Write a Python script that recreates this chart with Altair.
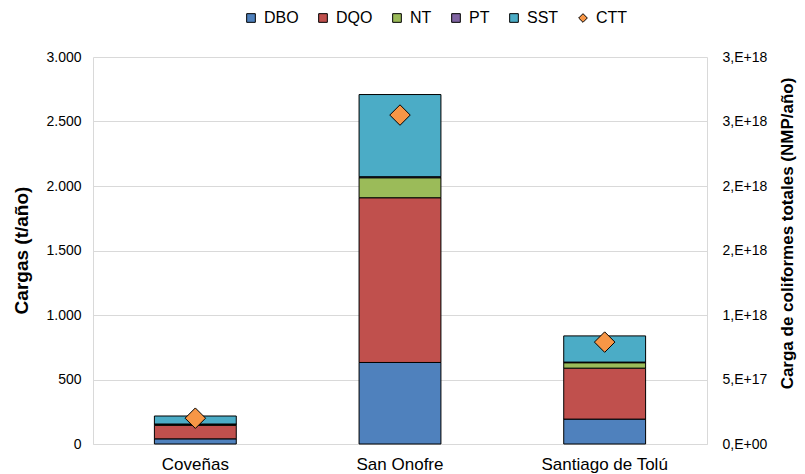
import altair as alt
import pandas as pd

municipios = ["Coveñas", "San Onofre", "Santiago de Tolú"]
series = ["DBO", "DQO", "NT", "PT", "SST"]
dbo = [40, 632, 193]
dqo = [105, 1277, 395]
nt = [8, 155, 42]
pt = [2, 8, 5]
sst = [62, 637, 203]
ctt = [2.0e17, 2.55e18, 7.9e17]

legend_domain = ["DBO", "DQO", "NT", "PT", "SST", "CTT"]
colors = ["#4F81BD", "#C0504D", "#9BBB59", "#8064A2", "#4BACC6", "#F79646"]
shapes = ["square", "square", "square", "square", "square", "diamond"]
outline = ["#000000"] * 6

rows = []
for s_i, (name, vals) in enumerate(zip(series, [dbo, dqo, nt, pt, sst])):
    for m, v in zip(municipios, vals):
        rows.append({"municipio": m, "serie": name, "valor": v, "orden": s_i})
df_bars = pd.DataFrame(rows)
df_ctt = pd.DataFrame({"municipio": municipios, "ctt": ctt, "serie": ["CTT"] * 3})

FONT = "Liberation Sans"

x_enc = alt.X(
    "municipio:N",
    sort=municipios,
    scale=alt.Scale(paddingInner=0.6, paddingOuter=0.3),
    axis=alt.Axis(
        title=None, labelAngle=0, ticks=False, domainColor="#d9d9d9",
        labelFontSize=17, labelColor="#000000", labelPadding=12,
    ),
)

leg = alt.Legend(
    title=None, orient="none", direction="horizontal",
    legendX=150, legendY=-47,
    labelFontSize=16, labelColor="#000000", labelOffset=5,
    columnPadding=16, symbolSize=75, symbolStrokeWidth=1,
    symbolStrokeColor="#000000", symbolOpacity=1,
)

color_scale = alt.Scale(domain=legend_domain, range=colors)
shape_scale = alt.Scale(domain=legend_domain, range=shapes)
stroke_scale = alt.Scale(domain=legend_domain, range=outline)

bars = alt.Chart(df_bars).mark_bar(strokeWidth=1).encode(
    x=x_enc,
    y=alt.Y(
        "valor:Q",
        stack="zero",
        scale=alt.Scale(domain=[0, 3000], nice=False),
        axis=alt.Axis(
            title="Cargas (t/año)",
            values=[0, 500, 1000, 1500, 2000, 2500, 3000],
            labelExpr="replace(format(datum.value, ','), ',', '.')",
            ticks=False, grid=True, gridColor="#d9d9d9",
            domainColor="#d9d9d9", labelFontSize=14, labelColor="#000000",
            labelPadding=12, titleFontSize=19, titleFontWeight="bold",
            titleColor="#000000", titleAngle=270, titleX=-72, titleY=193,
            titleAlign="center", titleBaseline="middle",
        ),
    ),
    color=alt.Color("serie:N", scale=color_scale, legend=leg),
    stroke=alt.Stroke("serie:N", scale=stroke_scale, legend=leg),
    order=alt.Order("orden:Q"),
)

points = alt.Chart(df_ctt).mark_point(
    filled=True, size=420, strokeWidth=1, opacity=1,
).encode(
    x=x_enc,
    y=alt.Y(
        "ctt:Q",
        scale=alt.Scale(domain=[0, 3.0e18], nice=False),
        axis=alt.Axis(
            orient="right",
            title="Carga de coliformes totales (NMP/año)",
            values=[0, 5e17, 1e18, 1.5e18, 2e18, 2.5e18, 3e18],
            labelExpr="datum.value == 0 ? '0,E+00' : round(datum.value / pow(10, floor(log(datum.value) / LN10 + 1e-9))) + ',E+' + floor(log(datum.value) / LN10 + 1e-9)",
            ticks=False, grid=False, domainColor="#d9d9d9",
            labelFontSize=14, labelColor="#000000", labelPadding=15,
            titleFontSize=17, titleFontWeight="bold", titleColor="#000000",
            titleAngle=270, titleX=80, titleY=176,
            titleAlign="center", titleBaseline="middle",
        ),
    ),
    color=alt.Color("serie:N", scale=color_scale, legend=leg),
    shape=alt.Shape("serie:N", scale=shape_scale, legend=leg),
    stroke=alt.Stroke("serie:N", scale=stroke_scale, legend=leg),
)

chart = (
    alt.layer(bars, points)
    .resolve_scale(y="independent")
    .properties(
        width=614, height=387,
        autosize=alt.AutoSizeParams(type="none"),
        padding={"left": 85, "top": 49, "right": 90, "bottom": 30},
    )
    .configure(font=FONT)
    .configure_view(stroke=None)
)

chart.save("out.html", embed_options={"renderer": "svg", "actions": False})
